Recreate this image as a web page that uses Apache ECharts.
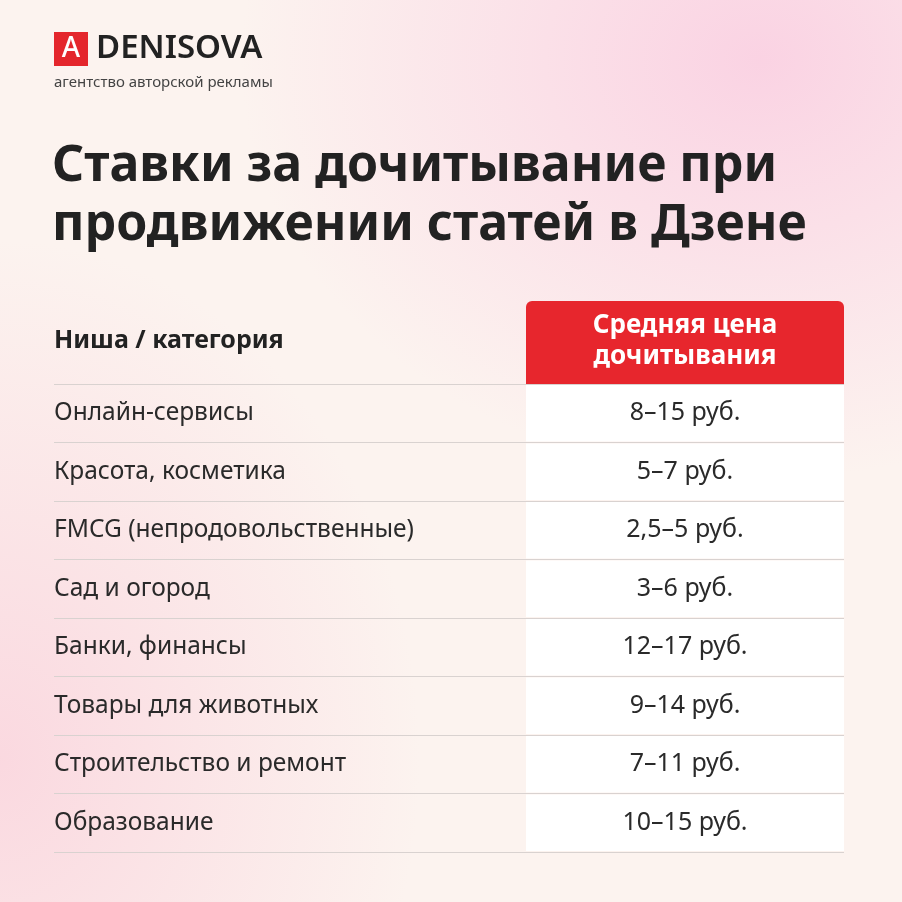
<!DOCTYPE html>
<html><head><meta charset="utf-8">
<script src="https://cdn.jsdelivr.net/npm/echarts@6/dist/echarts.min.js"></script>
<style>
html,body{margin:0;padding:0;width:902px;height:902px;overflow:hidden;
background:
radial-gradient(ellipse 520px 420px at 760px 60px, rgba(250,205,225,0.85), rgba(250,205,225,0) 100%),
radial-gradient(ellipse 420px 520px at 0px 760px, rgba(250,210,220,0.8), rgba(250,210,220,0) 100%),
#fcf3ef;}
#c{width:902px;height:902px;}
</style></head><body><div id="c"></div>
<script>
const categories=["Онлайн-сервисы","Красота, косметика","FMCG (непродовольственные)","Сад и огород","Банки, финансы","Товары для животных","Строительство и ремонт","Образование"];
const prices=["8–15 руб.","5–7 руб.","2,5–5 руб.","3–6 руб.","12–17 руб.","9–14 руб.","7–11 руб.","10–15 руб."];
const headers=["Ниша / категория","Средняя цена\nдочитывания"];
const F='"Noto Sans", "Open Sans", sans-serif';
const chart=echarts.init(document.getElementById('c'));
chart.setOption({
 backgroundColor:'transparent',
 animation:false,
 grid:{left:54,right:58,top:384,bottom:50},
 xAxis:{type:'value',min:0,max:790,show:false},
 yAxis:{type:'category',inverse:true,data:categories,
  axisLabel:{show:false},axisTick:{show:false},
  axisLine:{show:false},
  splitLine:{show:true,lineStyle:{color:'#d9d2d0',width:1}}},
 series:[
  {type:'bar',stack:'s',barCategoryGap:'3%',data:categories.map(()=>472),
   itemStyle:{color:'rgba(0,0,0,0)'},
   label:{show:true,position:'insideLeft',distance:0,formatter:p=>categories[p.dataIndex],
    fontFamily:F,fontSize:24.5,color:'#2a2a2a'}},
  {type:'bar',stack:'s',data:categories.map(()=>318),
   itemStyle:{color:'#ffffff'},
   label:{show:true,position:'inside',formatter:p=>prices[p.dataIndex],
    fontFamily:F,fontSize:25,color:'#2a2a2a'}}
 ],
 graphic:[
  {type:'rect',shape:{x:54,y:32,width:34,height:34},style:{fill:'#e4262c'}},
  {type:'text',x:71,y:49,style:{text:'A',fill:'#fff',font:'500 28px '+F,align:'center',verticalAlign:'middle'}},
  {type:'text',x:96,y:49,style:{text:'DENISOVA',fill:'#222',font:'600 33px '+F,verticalAlign:'middle'}},
  {type:'text',x:54,y:83,style:{text:'агентство авторской рекламы',fill:'#444',font:'15px '+F,verticalAlign:'middle'}},
  {type:'text',x:52,y:167,style:{text:'Ставки за дочитывание при',fill:'#222',font:'bold 50px '+F,verticalAlign:'middle'}},
  {type:'text',x:52,y:226,style:{text:'продвижении статей в Дзене',fill:'#222',font:'bold 50px '+F,verticalAlign:'middle'}},
  {type:'text',x:54,y:341,style:{text:headers[0],fill:'#222',font:'bold 25px '+F,verticalAlign:'middle'}},
  {type:'rect',shape:{x:526,y:301,width:318,height:83,r:[6,6,0,0]},style:{fill:'#e7262d'}},
  {type:'text',x:685,y:341,style:{text:headers[1],fill:'#fff',font:'bold 26px '+F,align:'center',verticalAlign:'middle',lineHeight:31}}
 ]
});
</script></body></html>
